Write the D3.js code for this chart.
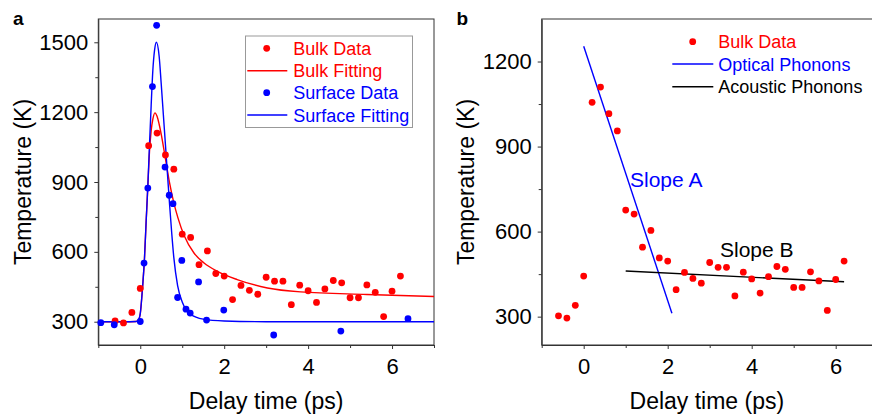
<!DOCTYPE html>
<html>
<head>
<meta charset="utf-8">
<script src="https://cdn.jsdelivr.net/npm/d3@7"></script>
<style>
  body { margin: 0; background: #fff; }
  text { font-family: Arial, "Liberation Sans", sans-serif; }
</style>
</head>
<body>
<div id="chart"></div>
<script>
// bulk data (same points in both panels)
var bulkTime = [-0.6, -0.4, -0.2, 0, 0.2, 0.4, 0.6, 0.8, 1.0, 1.2, 1.4, 1.6, 1.8, 2.0, 2.2, 2.4, 2.6, 2.8,
  3.0, 3.2, 3.4, 3.6, 3.8, 4.0, 4.2, 4.4, 4.6, 4.8, 5.0, 5.2, 5.4, 5.6, 5.8, 6.0, 6.2];
var bulkTemp = [303, 295, 340, 443, 1056, 1110, 1016, 955, 676, 662, 545, 604, 507, 496, 395, 456, 435, 418,
  491, 474, 474, 373, 457, 433, 383, 441, 477, 467, 403, 403, 458, 426, 322, 431, 496];

// surface data
var surfTime = [-0.94, -0.62, 0.0, 0.09, 0.18, 0.29, 0.39, 0.59, 0.69, 0.78, 0.89, 0.99, 1.09, 1.19, 1.39, 1.58, 1.99, 3.18, 4.78, 6.38];
var surfTemp = [296, 287, 301, 552, 874, 1310, 1573, 964, 843, 807, 404, 563, 354, 337, 471, 307, 350, 243, 260, 313];

// fitted curves
var bulkFitTime = [-1, -0.4, -0.1, -0.05, 0, 0.03, 0.06, 0.1, 0.14, 0.18, 0.22, 0.26, 0.3, 0.35, 0.4, 0.45, 0.5, 0.6, 0.7,
  0.8, 0.9, 1.045, 1.28, 1.52, 1.84, 2.31, 3.03, 3.82, 5.4, 7];
var bulkFitTemp = [300, 300, 301, 306, 335, 390, 460, 570, 730, 880, 1030, 1120, 1170, 1197, 1182, 1148, 1105, 1000, 895,
  810, 745, 670, 595, 552, 516, 481, 445, 428, 417, 408];
var surfFitTime = [-1, -0.4, -0.1, -0.05, 0, 0.03, 0.06, 0.1, 0.14, 0.18, 0.22, 0.26, 0.3, 0.34, 0.385, 0.45, 0.5, 0.55,
  0.6, 0.65, 0.7, 0.75, 0.8, 0.89, 1.0, 1.1, 1.2, 1.5, 2.0, 3.0, 7];
var surfFitTemp = [300, 300, 301, 306, 335, 390, 460, 570, 730, 880, 1060, 1230, 1380, 1465, 1500, 1440, 1320, 1190,
  1060, 930, 800, 680, 575, 455, 385, 350, 332, 311, 303, 300, 300];

// panel b guide lines
var opticalTime = [0, 2.1], opticalTemp = [1254, 312];
var acousticTime = [1.0, 6.2], acousticTemp = [461, 423];

// tick values
var xTicks = [0, 2, 4, 6], xMinor = [-1, 1, 3, 5, 7];
var yTicksA = [300, 600, 900, 1200, 1500], yMinorA = [450, 750, 1050, 1350];
var yTicksB = [300, 600, 900, 1200], yMinorB = [450, 750, 1050];

var RED = "#ff0000", BLUE = "#0000ff";

var svg = d3.select("#chart").append("svg")
  .attr("width", 872)
  .attr("height", 416);

function zip(xs, ys) {
  return xs.map(function (d, i) { return [d, ys[i]]; });
}

// draws frame + axes for one panel, returns scales
function panel(left, right, yDomain, yTicks, yMinor, label) {
  var top = 19, bottom = 345;
  var x = d3.scaleLinear().domain([-1, 7]).range([left, right]);
  var y = d3.scaleLinear().domain(yDomain).range([bottom, top]);

  svg.append("rect")
    .attr("x", left).attr("y", top)
    .attr("width", right - left).attr("height", bottom - top)
    .attr("fill", "none").attr("stroke", "#333").attr("stroke-width", 1);

  // major + minor ticks
  var gx = svg.append("g").attr("transform", "translate(0," + bottom + ")")
    .call(d3.axisBottom(x).tickValues(xTicks).tickFormat(d3.format("d"))
      .tickSize(4).tickSizeOuter(0).tickPadding(9));
  svg.append("g").attr("transform", "translate(0," + bottom + ")")
    .call(d3.axisBottom(x).tickValues(xMinor).tickSize(3).tickFormat(""))
    .select(".domain").remove();
  var gy = svg.append("g").attr("transform", "translate(" + left + ",0)")
    .call(d3.axisLeft(y).tickValues(yTicks).tickFormat(d3.format("d"))
      .tickSize(4).tickSizeOuter(0).tickPadding(6));
  svg.append("g").attr("transform", "translate(" + left + ",0)")
    .call(d3.axisLeft(y).tickValues(yMinor).tickSize(3).tickFormat(""))
    .select(".domain").remove();

  svg.selectAll(".tick line, .domain").attr("stroke", "#333");
  [gx, gy].forEach(function (g) {
    g.selectAll("text").attr("font-size", 22).attr("fill", "#000")
      .attr("font-family", "Arial, 'Liberation Sans', sans-serif");
  });

  // axis titles
  svg.append("text")
    .attr("x", (left + Math.min(right, 872)) / 2)
    .attr("y", 409)
    .attr("text-anchor", "middle")
    .attr("font-size", 23)
    .text("Delay time (ps)");

  svg.append("text")
    .attr("transform", "translate(" + (left - 67.5) + "," + ((top + bottom) / 2) + ") rotate(-90)")
    .attr("text-anchor", "middle")
    .attr("font-size", 23)
    .text("Temperature (K)");

  svg.append("text")
    .attr("x", label.x).attr("y", 25)
    .attr("font-size", 19).attr("font-weight", "bold")
    .text(label.t);

  return { x: x, y: y };
}

function dots(s, xs, ys, color) {
  svg.append("g").selectAll("circle")
    .data(zip(xs, ys))
    .enter().append("circle")
    .attr("cx", function (d) { return s.x(d[0]); })
    .attr("cy", function (d) { return s.y(d[1]); })
    .attr("r", 3.4)
    .attr("fill", color);
}

function curve(s, xs, ys, color, smooth) {
  var line = d3.line()
    .x(function (d) { return s.x(d[0]); })
    .y(function (d) { return s.y(d[1]); })
    .curve(smooth ? d3.curveMonotoneX : d3.curveLinear);
  svg.append("path")
    .datum(zip(xs, ys))
    .attr("d", line)
    .attr("fill", "none")
    .attr("stroke", color)
    .attr("stroke-width", 1.4);
}

function legendRow(cx, y, kind, color, txt, textX) {
  if (kind === "dot") {
    svg.append("circle").attr("cx", cx).attr("cy", y).attr("r", 3.4).attr("fill", color);
  } else {
    svg.append("line")
      .attr("x1", kind[0]).attr("x2", kind[1])
      .attr("y1", y).attr("y2", y)
      .attr("stroke", color).attr("stroke-width", 1.4);
  }
  svg.append("text")
    .attr("x", textX).attr("y", y + 6.5)
    .attr("font-size", 18)
    .attr("fill", color)
    .text(txt);
}

// ---- panel a ----
var a = panel(98.3, 434, [200, 1600], yTicksA, yMinorA, { x: 13, t: "a" });
curve(a, bulkFitTime, bulkFitTemp, RED, true);
curve(a, surfFitTime, surfFitTemp, BLUE, true);
dots(a, bulkTime, bulkTemp, RED);
dots(a, surfTime, surfTemp, BLUE);

svg.append("rect")
  .attr("x", 245.5).attr("y", 36)
  .attr("width", 167).attr("height", 91.5)
  .attr("fill", "#fff").attr("stroke", "#999").attr("stroke-width", 1);
legendRow(266.7, 48.3, "dot", RED, "Bulk Data", 293.3);
legendRow(0, 70.7, [247.3, 287.3], RED, "Bulk Fitting", 293.3);
legendRow(266.7, 92.7, "dot", BLUE, "Surface Data", 293.3);
legendRow(0, 115, [247.3, 287.3], BLUE, "Surface Fitting", 293.3);

// ---- panel b ----
var b = panel(541.7, 877.7, [200, 1350], yTicksB, yMinorB, { x: 456.5, t: "b" });
curve(b, opticalTime, opticalTemp, BLUE, false);
curve(b, acousticTime, acousticTemp, "#000", false);
dots(b, bulkTime, bulkTemp, RED);

svg.append("text").attr("x", 630).attr("y", 186.5)
  .attr("font-size", 21).attr("fill", BLUE).text("Slope A");
svg.append("text").attr("x", 720).attr("y", 256.5)
  .attr("font-size", 21).attr("fill", "#000").text("Slope B");

legendRow(692.7, 41.7, "dot", RED, "Bulk Data", 718.3);
legendRow(0, 64, [672.3, 713.3], BLUE, "Optical Phonons", 718.3);
legendRow(0, 86.7, [672.3, 713.3], "#000", "Acoustic Phonons", 718.3);
</script>
</body>
</html>
